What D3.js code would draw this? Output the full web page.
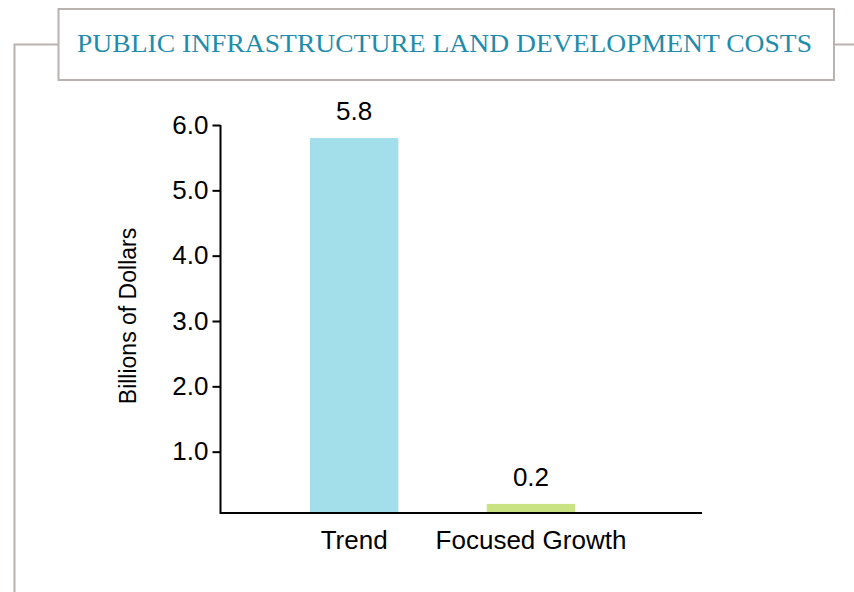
<!DOCTYPE html>
<html>
<head>
<meta charset="utf-8">
<script src="https://cdn.jsdelivr.net/npm/d3@7"></script>
<style>
  body { margin: 0; background: #fff; }
  text { font-family: "Liberation Sans", Arial, sans-serif; }
</style>
</head>
<body>
<div id="chart"></div>
<script>
var width = 854;
var height = 592;

var title = "PUBLIC INFRASTRUCTURE LAND DEVELOPMENT COSTS";
var categories = ["Trend", "Focused Growth"];
var values = [5.8, 0.2];
var barColors = ["#a3deeb", "#c9e383"];
var yTicks = [1, 2, 3, 4, 5, 6];
var yLabel = "Billions of Dollars";

var svg = d3.select("#chart")
  .append("svg")
    .attr("width", width)
    .attr("height", height);

// frame: bracket line on the left, box around the title
var frameColor = "#bab2b1";
svg.append("path")
  .attr("d", "M14.5,592 V44.5 H58.5")
  .attr("fill", "none")
  .attr("stroke", frameColor)
  .attr("stroke-width", 2);
svg.append("line")
  .attr("x1", 834).attr("x2", 854)
  .attr("y1", 44.5).attr("y2", 44.5)
  .attr("stroke", frameColor)
  .attr("stroke-width", 2);
svg.append("rect")
  .attr("x", 58.5).attr("y", 9)
  .attr("width", 775.5).attr("height", 71)
  .attr("fill", "#fff")
  .attr("stroke", frameColor)
  .attr("stroke-width", 2);
svg.append("text")
  .attr("x", 77).attr("y", 52)
  .attr("textLength", 735)
  .attr("lengthAdjust", "spacingAndGlyphs")
  .style("font-family", "'Liberation Serif', 'DejaVu Serif', serif")
  .style("font-size", "26px")
  .attr("fill", "#1f8cab")
  .text(title);

// scales
var x = d3.scaleBand()
  .domain(categories)
  .range([220, 702])
  .paddingInner(0.5)
  .paddingOuter(0.613)
  .align(0.415);

var y = d3.scaleLinear()
  .domain([0, 6])
  .range([517, 125]);

var axisY = 513;

// bars
svg.selectAll(".bar")
  .data(categories)
  .enter()
  .append("rect")
    .attr("class", "bar")
    .attr("x", d => x(d))
    .attr("width", x.bandwidth())
    .attr("y", (d, i) => y(values[i]))
    .attr("height", (d, i) => axisY - 1 - y(values[i]))
    .attr("fill", (d, i) => barColors[i]);

// value labels
svg.selectAll(".val")
  .data(categories)
  .enter()
  .append("text")
    .attr("class", "val")
    .attr("x", d => x(d) + x.bandwidth() / 2)
    .attr("y", (d, i) => y(values[i]) - 18)
    .attr("text-anchor", "middle")
    .style("font-size", "26px")
    .text((d, i) => values[i].toFixed(1));

// y axis
var yAxis = d3.axisLeft(y)
  .tickValues(yTicks)
  .tickSize(8)
  .tickPadding(4)
  .tickFormat(d3.format(".1f"));
var gy = svg.append("g")
  .attr("transform", "translate(220.5,0)")
  .call(yAxis);
gy.select(".domain").remove();
gy.selectAll(".tick line").attr("stroke", "#000").attr("stroke-width", 2);
gy.selectAll(".tick text")
  .style("font-size", "26px")
  .style("font-family", "'Liberation Sans', Arial, sans-serif")
  .attr("fill", "#000");
svg.append("line")
  .attr("x1", 220.5).attr("x2", 220.5)
  .attr("y1", y(6)).attr("y2", axisY + 1)
  .attr("stroke", "#000").attr("stroke-width", 2);

// x axis
svg.append("line")
  .attr("x1", 220).attr("x2", 702)
  .attr("y1", axisY).attr("y2", axisY)
  .attr("stroke", "#000").attr("stroke-width", 2);
var xAxis = d3.axisBottom(x).tickSize(0).tickPadding(0);
var gx = svg.append("g")
  .attr("transform", "translate(0," + axisY + ")")
  .call(xAxis);
gx.select(".domain").remove();
gx.selectAll(".tick text")
  .attr("dy", null)
  .attr("y", 36)
  .style("font-size", "26px")
  .style("font-family", "'Liberation Sans', Arial, sans-serif")
  .attr("fill", "#000");

// y label
svg.append("text")
  .attr("transform", "translate(136,316) rotate(-90)")
  .attr("text-anchor", "middle")
  .style("font-size", "23px")
  .text(yLabel);
</script>
</body>
</html>
